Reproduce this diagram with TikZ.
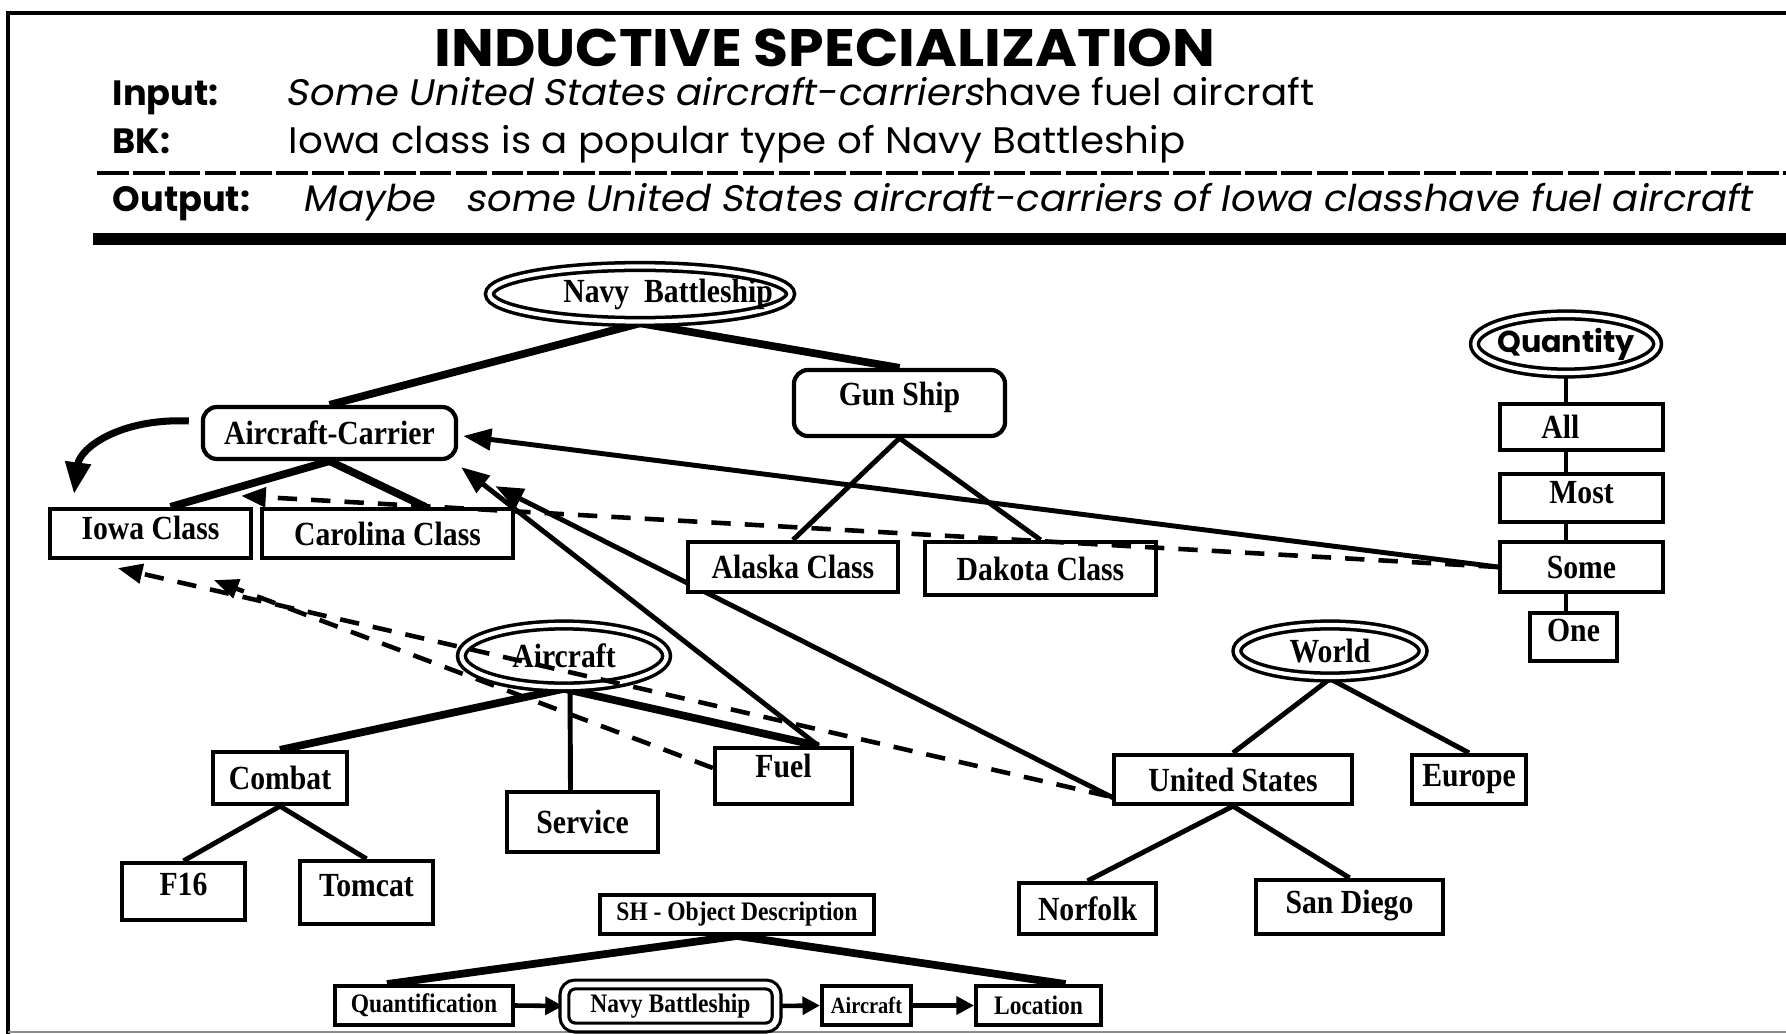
\documentclass[tikz,border=0pt]{standalone}
\usepackage{fontspec}
\setmainfont{Liberation Serif}
\newfontfamily\geofont{Poppins}
\newfontfamily\geowide[FakeStretch=1.05]{Poppins}
\newfontfamily\geoslant[FakeSlant=0.18,FakeStretch=1.05]{Poppins}
\newfontfamily\titlefont[FakeStretch=1.08]{Poppins}
\newfontfamily\labelfont[FakeStretch=0.88]{Liberation Serif}
\usetikzlibrary{arrows.meta,shapes.geometric,calc}
\pgfdeclarelayer{back}
\pgfsetlayers{back,main}

\begin{document}
\begin{tikzpicture}[x=0.01cm,y=-0.01cm,
  every node/.style={inner sep=0pt},
  lbl/.style={font=\labelfont\bfseries\fontsize{9.6}{11}\selectfont},
  box/.style={lbl, draw, line width=1.2pt, fill=white},
  rbox/.style={box, rounded corners=4pt},
  tinybox/.style={draw, line width=1.1pt, fill=white,
    font=\labelfont\bfseries\fontsize{7.6}{9}\selectfont},
  concept/.style={lbl, ellipse, draw, double, double distance=1.2pt,
    line width=1pt, fill=white},
  link/.style={line width=1.4pt},
  heavy/.style={line width=2.2pt},
  ref/.style={line width=1.4pt, -{Triangle[length=8pt,width=6pt]}},
  hint/.style={line width=1.3pt, dash pattern=on 5.5pt off 4pt,
    -{Triangle[length=7pt,width=5.5pt]}},
  slot/.style={line width=1.3pt, -{Triangle[length=5pt,width=5pt]}},
  hdr/.style={anchor=mid west, font=\geofont\bfseries\fontsize{10}{12}\selectfont},
  hdrtext/.style={anchor=mid west, font=\geowide\fontsize{10.5}{12}\selectfont},
]
\useasboundingbox (0,0) rectangle (1786,1034);

% frame and header rules
\draw[line width=1.3pt] (1786,13) -- (8,13) -- (8,1034);
\draw[black!45, line width=0.4pt] (8,1032) -- (1786,1032);
\draw[line width=1.2pt, dash pattern=on 9pt off 1.2pt] (97,173) -- (1786,173);
\draw[line width=3.2pt] (93,239) -- (1786,239);

% header text
\node[font=\titlefont\bfseries\fontsize{15}{18}\selectfont] (title) at (825,48) {INDUCTIVE SPECIALIZATION};
\node[hdr] (inlab) at (112,97) {Input:};
\node[hdrtext] (intext) at (285,97) {{\geoslant Some United States aircraft-carriers}have fuel aircraft};
\node[hdr] (bklab) at (112,145) {BK:};
\node[hdrtext] (bktext) at (288,145) {Iowa class is a popular type of Navy Battleship};
\node[hdr] (outlab) at (112,203) {Output:};
\node[hdrtext] (outtext) at (302,203) {\geoslant Maybe\ \ \ some United States aircraft-carriers of Iowa classhave fuel aircraft};

% ship hierarchy
\node[concept, minimum width=3.01cm, minimum height=0.55cm] (navy) at (640,294) {\makebox[0pt]{\hspace*{16pt}Navy\ \ Battleship}};
\node[rbox, minimum width=2.53cm, minimum height=0.52cm] (ac) at (329.5,433) {Aircraft-Carrier};
\node[rbox, minimum width=2.11cm, minimum height=0.66cm] (gun) at (899.5,403) {\raisebox{5pt}{Gun Ship}};
\node[box, minimum width=2.01cm, minimum height=0.49cm] (iowa) at (150.5,533.5) {\raisebox{3pt}{Iowa Class}};
\node[box, minimum width=2.51cm, minimum height=0.49cm] (carolina) at (387.5,533.5) {Carolina Class};
\node[box, minimum width=2.10cm, minimum height=0.50cm] (alaska) at (793,567) {Alaska Class};
\node[box, minimum width=2.31cm, minimum height=0.53cm] (dakota) at (1040.5,568.5) {Dakota Class};

% quantity scale
\node[concept, minimum width=1.83cm, minimum height=0.58cm,
  font=\geofont\bfseries\fontsize{8.6}{10}\selectfont] (quant) at (1566,344) {\makebox[0pt]{Quantity}};
\node[box, minimum width=1.63cm, minimum height=0.46cm] (all) at (1581.5,427) {\hspace*{-12pt}All};
\node[box, minimum width=1.63cm, minimum height=0.48cm] (most) at (1581.5,498) {\raisebox{3pt}{Most}};
\node[box, minimum width=1.63cm, minimum height=0.50cm] (some) at (1581.5,567) {Some};
\node[box, minimum width=0.87cm, minimum height=0.48cm] (one) at (1573.5,637) {\raisebox{4pt}{One}};

% locations
\node[concept, minimum width=1.86cm, minimum height=0.52cm] (world) at (1330,651) {\makebox[0pt]{World}};
\node[box, minimum width=2.38cm, minimum height=0.49cm] (us) at (1233,779.5) {United States};
\node[box, minimum width=1.14cm, minimum height=0.49cm] (europe) at (1469,779.5) {Europe};
\node[box, minimum width=1.37cm, minimum height=0.51cm] (norfolk) at (1087.5,908.5) {Norfolk};
\node[box, minimum width=1.87cm, minimum height=0.54cm] (sandiego) at (1349.5,907) {\raisebox{3pt}{San Diego}};

% aircraft hierarchy
\node[concept, minimum width=2.05cm, minimum height=0.62cm] (air) at (564,656) {\makebox[0pt]{Aircraft}};
\node[box, minimum width=1.34cm, minimum height=0.52cm] (combat) at (280,778) {Combat};
\node[box, minimum width=1.51cm, minimum height=0.60cm] (service) at (582.5,822) {Service};
\node[box, minimum width=1.37cm, minimum height=0.56cm] (fuel) at (783.5,776) {\raisebox{6pt}{Fuel}};
\node[box, minimum width=1.23cm, minimum height=0.57cm] (f16) at (183.5,891.5) {\raisebox{4pt}{F16}};
\node[box, minimum width=1.33cm, minimum height=0.63cm] (tomcat) at (366.5,892.5) {\raisebox{4pt}{Tomcat}};

% object description frame
\node[tinybox, minimum width=2.74cm, minimum height=0.39cm] (sh) at (737,914.5) {SH - Object Description};
\node[tinybox, minimum width=1.78cm, minimum height=0.39cm] (qslot) at (424,1005.5) {Quantification};
\node[tinybox, double, double distance=1.6pt, line width=0.9pt, rounded corners=3pt,
  minimum width=2.12cm, minimum height=0.43cm] (nslot) at (670.5,1006) {Navy Battleship};
\node[tinybox, minimum width=0.89cm, minimum height=0.39cm,
  font=\labelfont\bfseries\fontsize{6.6}{8}\selectfont] (aslot) at (866.5,1005.5) {Aircraft};
\node[tinybox, minimum width=1.25cm, minimum height=0.39cm] (lslot) at (1038.5,1005.5) {Location};

\begin{pgfonlayer}{back}
  % taxonomy links
  \draw[heavy] (navy.south) -- (ac.north);
  \draw[heavy] (navy.south) -- (gun.north);
  \draw[heavy] (ac.south) -- ($(iowa.north)+(20,0)$);
  \draw[heavy] (ac.south) -- ($(carolina.north)+(38,0)$);
  \draw[link] (gun.south) -- (alaska.north);
  \draw[link] (gun.south) -- (dakota.north);
  \draw[link] (quant.south) -- (quant.south |- one.north);
  \draw[link] (world.south) -- (us.north);
  \draw[link] (world.south) -- (europe.north);
  \draw[link] (us.south) -- (norfolk.north);
  \draw[link] (us.south) -- (sandiego.north);
  \draw[heavy] (air.south) -- (combat.north);
  \draw[heavy] (air.south) -- ($(fuel.north)+(35,0)$);
  \draw[link] ($(air.south)+(6,0)$) -- ($(service.north)+(-12,0)$);
  \draw[link] (combat.south) -- (f16.north);
  \draw[link] (combat.south) -- (tomcat.north);
  \draw[heavy] (sh.south) -- ($(qslot.north)+(-37,0)$);
  \draw[heavy] (sh.south) -- ($(lslot.north)+(27,0)$);
  % slot order
  \draw[slot] (qslot.east) -- (nslot.west);
  \draw[slot] (nslot.east) -- (aslot.west);
  \draw[slot] (aslot.east) -- (lslot.west);
  % specialization references
  \draw[ref] (some.west) -- ($(ac.east)+(5,3)$);
  \draw[ref] ($(fuel.north)+(35,0)$) -- ($(ac.south east)+(3,6)$);
  \draw[ref] ($(us.south west)+(2,-8)$) -- ($(ac.south east)+(37,25)$);
  \draw[line width=2pt, -{Triangle[length=9pt,width=7pt]}]
    ($(ac.west)+(-12,-12)$) .. controls (120,418) and (80,448) .. (74,494);
\end{pgfonlayer}

% inferred links
\draw[hint] (some.west) -- ($(iowa.north east)+(-12,-11)$);
\draw[hint] ($(us.south west)+(-4,-10)$) -- ($(iowa.south west)+(70,8)$);
\draw[hint] ($(fuel.west)+(0,-8)$) -- ($(iowa.south west)+(166,20)$);
\end{tikzpicture}
\end{document}
